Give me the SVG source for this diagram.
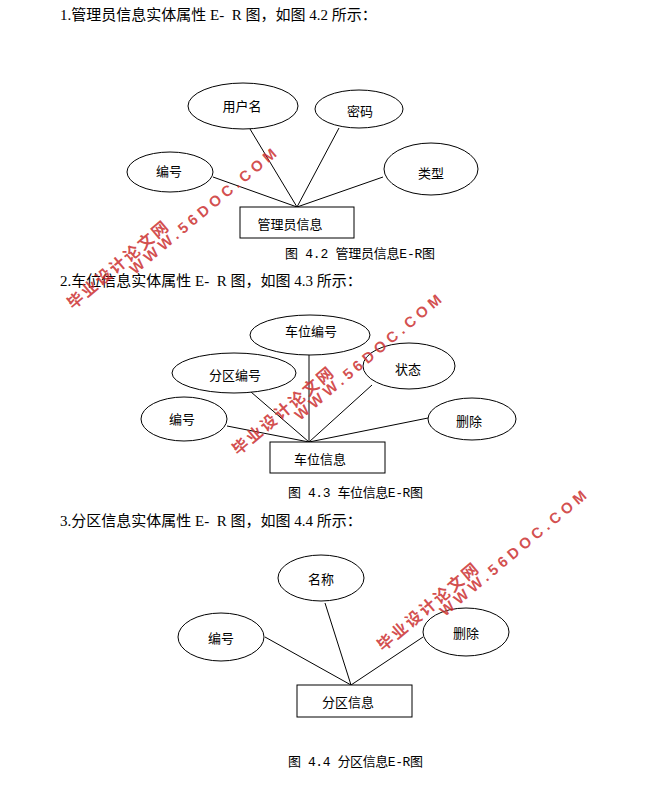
<svg xmlns="http://www.w3.org/2000/svg" xmlns:xlink="http://www.w3.org/1999/xlink" width="651" height="789" viewBox="0 0 651 789">
<style>
.bg{fill:#ffffff}
.ent{fill:#ffffff;stroke:#000000;stroke-width:1}
.attr{fill:#ffffff;stroke:#000000;stroke-width:1}
.conn line{stroke:#000000;stroke-width:1}
.lbl{font-family:"Noto Sans CJK SC","Liberation Sans",sans-serif;font-size:13px;fill:#000000;text-anchor:middle;dominant-baseline:central}
.head{font-family:"Liberation Serif","Noto Sans CJK SC",serif;font-size:15px;fill:#000000;white-space:pre}
.cap{font-family:"Liberation Mono","Noto Sans CJK SC",monospace;font-size:13px;fill:#000000;white-space:pre}
.wmc{font-family:"Noto Sans CJK SC","Liberation Sans",sans-serif;font-weight:bold;font-size:16px;fill:#cc3030;fill-opacity:0.85}
.wml{font-family:"Liberation Sans","DejaVu Sans",sans-serif;font-weight:bold;font-size:15px;fill:#cc3030;fill-opacity:0.85}
</style>
<defs>
<g id="wm">
<text class="wmc" transform="translate(73,310) rotate(-40)" textLength="126" lengthAdjust="spacing">毕业设计论文网</text>
<text class="wml" transform="translate(135,275) rotate(-40)" textLength="186" lengthAdjust="spacing">WWW.56DOC.COM</text>
</g>
</defs>
<rect class="bg" x="0" y="0" width="651" height="789"/>

<g id="headings">
<text class="head" x="60" y="20">1.管理员信息实体属性 E-  R 图，如图 4.2 所示：</text>
<text class="head" x="60" y="286">2.车位信息实体属性 E-  R 图，如图 4.3 所示：</text>
<text class="head" x="60" y="526">3.分区信息实体属性 E-  R 图，如图 4.4 所示：</text>
</g>

<g id="captions">
<text class="cap" x="285" y="258" textLength="150" lengthAdjust="spacing">图 4.2 管理员信息E-R图</text>
<text class="cap" x="288" y="497" textLength="135" lengthAdjust="spacing">图 4.3 车位信息E-R图</text>
<text class="cap" x="288" y="766" textLength="135" lengthAdjust="spacing">图 4.4 分区信息E-R图</text>
</g>

<g id="connectors" class="conn">
<line x1="250" y1="129" x2="297" y2="207"/>
<line x1="339" y1="128" x2="297" y2="207"/>
<line x1="213" y1="177" x2="297" y2="207"/>
<line x1="383" y1="177" x2="297" y2="207"/>

<line x1="309" y1="355" x2="309" y2="442"/>
<line x1="251" y1="392" x2="309" y2="442"/>
<line x1="372" y1="385" x2="309" y2="442"/>
<line x1="227" y1="426" x2="309" y2="442"/>
<line x1="428" y1="418" x2="309" y2="442"/>

<line x1="325" y1="603" x2="351" y2="685"/>
<line x1="265" y1="637" x2="351" y2="685"/>
<line x1="423" y1="637" x2="351" y2="685"/>
</g>

<g id="admin_username"><ellipse class="attr" cx="243" cy="106" rx="55" ry="23"/><text class="lbl" x="242" y="105">用户名</text></g>
<g id="admin_password"><ellipse class="attr" cx="359" cy="109" rx="44" ry="19"/><text class="lbl" x="360" y="110">密码</text></g>
<g id="admin_id"><ellipse class="attr" cx="170" cy="172" rx="43" ry="20"/><text class="lbl" x="169" y="170">编号</text></g>
<g id="admin_type"><ellipse class="attr" cx="431" cy="169" rx="47" ry="26"/><text class="lbl" x="431" y="172">类型</text></g>
<g id="admin"><rect class="ent" x="240" y="207" width="114" height="31"/><text class="lbl" x="290" y="223">管理员信息</text></g>

<g id="space_no"><ellipse class="attr" cx="310" cy="335" rx="60" ry="20"/><text class="lbl" x="311" y="330">车位编号</text></g>
<g id="space_zone"><ellipse class="attr" cx="234" cy="373" rx="62" ry="20"/><text class="lbl" x="235" y="374">分区编号</text></g>
<g id="space_state"><ellipse class="attr" cx="409" cy="366" rx="46" ry="23"/><text class="lbl" x="408" y="368">状态</text></g>
<g id="space_id"><ellipse class="attr" cx="184" cy="419" rx="43" ry="22"/><text class="lbl" x="182" y="418">编号</text></g>
<g id="space_del"><ellipse class="attr" cx="472" cy="419" rx="44" ry="21"/><text class="lbl" x="469" y="420">删除</text></g>
<g id="space"><rect class="ent" x="270" y="442" width="115" height="31"/><text class="lbl" x="320" y="458">车位信息</text></g>

<g id="zone_name"><ellipse class="attr" cx="321" cy="578" rx="43" ry="23"/><text class="lbl" x="321" y="578">名称</text></g>
<g id="zone_id"><ellipse class="attr" cx="221" cy="637" rx="43" ry="24"/><text class="lbl" x="221" y="637">编号</text></g>
<g id="zone_del"><ellipse class="attr" cx="466" cy="632" rx="43" ry="24"/><text class="lbl" x="466" y="632">删除</text></g>
<g id="zone"><rect class="ent" x="297" y="685" width="115" height="32"/><text class="lbl" x="348" y="701">分区信息</text></g>

<g id="watermarks">
<use xlink:href="#wm"/>
<use xlink:href="#wm" transform="translate(165,146)"/>
<use xlink:href="#wm" transform="translate(310,342)"/>
</g>
</svg>
